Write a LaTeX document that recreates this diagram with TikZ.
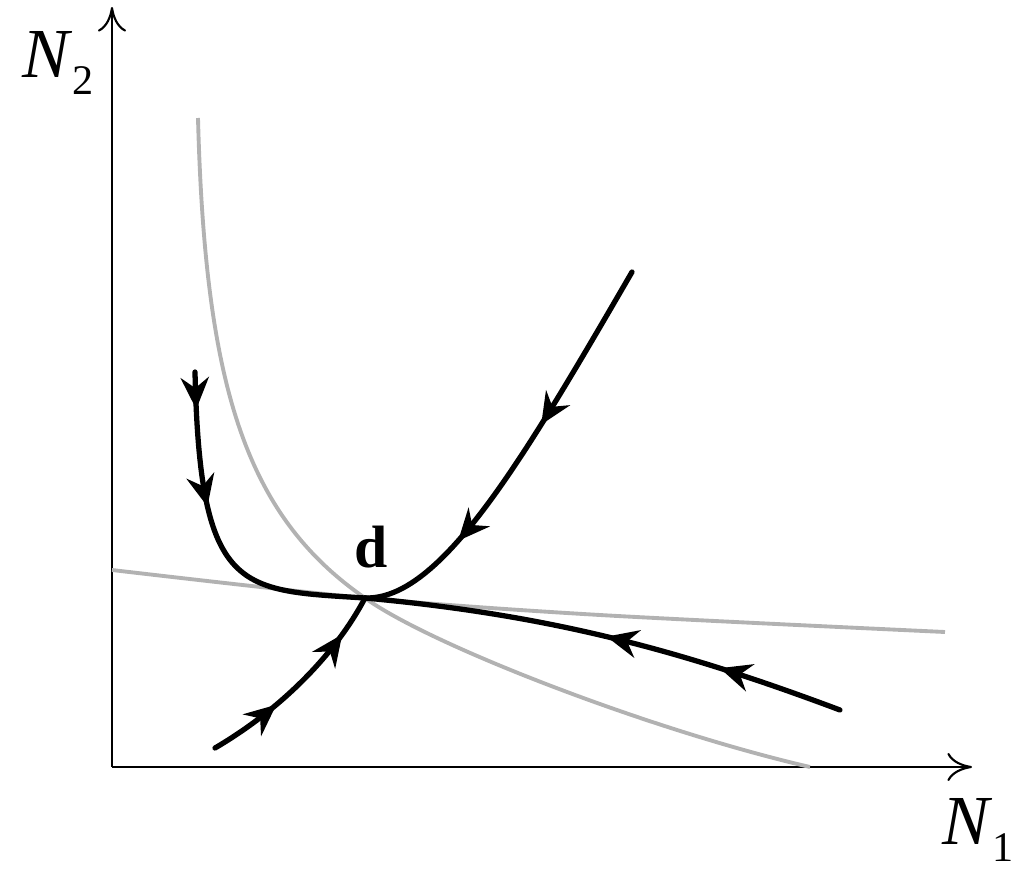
\documentclass[tikz,border=0pt]{standalone}
\usepackage{fontspec}
\setmainfont{Liberation Serif}
\usetikzlibrary{arrows,arrows.meta,calc,positioning,decorations.markings}

\begin{document}
\begin{tikzpicture} [>=latex',thick]
    \tikzset {
      axis/.style={line width=0.6pt,-{To[length=7pt,width=8pt]}},
      isocline/.style={line width=1.1pt,color=black!30},
      orbit/.style={line width=1.5pt,line cap=round,postaction={decorate}},
      tips/.style 2 args={decoration={markings,
        mark=at position #1 with {\arrow{Stealth[length=9pt,width=8pt,inset=3pt]}},
        mark=at position #2 with {\arrow{Stealth[length=9pt,width=8pt,inset=3pt]}}}}
    }
    \useasboundingbox (0,0) rectangle (10.24,8.85);
    \coordinate (o) at (1.12,1.18);
    \coordinate (d) at (3.65,2.87);
    \coordinate (ytop) at (1.12,8.78);
    \coordinate (xend) at (9.72,1.18);
    \draw [axis] (o) to (ytop);
    \draw [axis] (o) to (xend);
    \node (n2) at (0.58,8.22) {\fontsize{20}{22}\selectfont\textit{N}\raisebox{-0.55ex}{\fontsize{12}{14}\selectfont 2}};
    \node (n1) at (9.78,0.55) {\fontsize{20}{22}\selectfont\textit{N}\raisebox{-0.55ex}{\fontsize{12}{14}\selectfont 1}};
    \node (dlabel) at (3.71,3.38) {\fontsize{17}{19}\selectfont\textbf{d}};

    % isoclines
    \draw [isocline] (1.98,7.67) .. controls (2.05,5.0) and (2.45,3.7) .. (d)
                     .. controls (4.3,2.4) and (6.5,1.55) .. (8.10,1.18);
    \draw [isocline] plot [smooth] coordinates {(1.12,3.15) (d) (6.00,2.70) (9.45,2.53)};

    % trajectories into d
    \draw [orbit,tips={0.11}{0.40}] (1.95,5.13) .. controls (2.0,2.9) and (2.4,2.95) .. (d);
    \draw [orbit,tips={0.41}{0.74}] (6.32,6.13) .. controls (5.2,4.2) and (4.4,2.85) .. (d);
    \draw [orbit,tips={0.35}{0.80}] (2.15,1.37) .. controls (2.8,1.75) and (3.35,2.3) .. (d);
    \draw [orbit,tips={0.26}{0.50}] (8.40,1.75) .. controls (6.8,2.35) and (5.5,2.7) .. (d);
  \end{tikzpicture}
\end{document}
